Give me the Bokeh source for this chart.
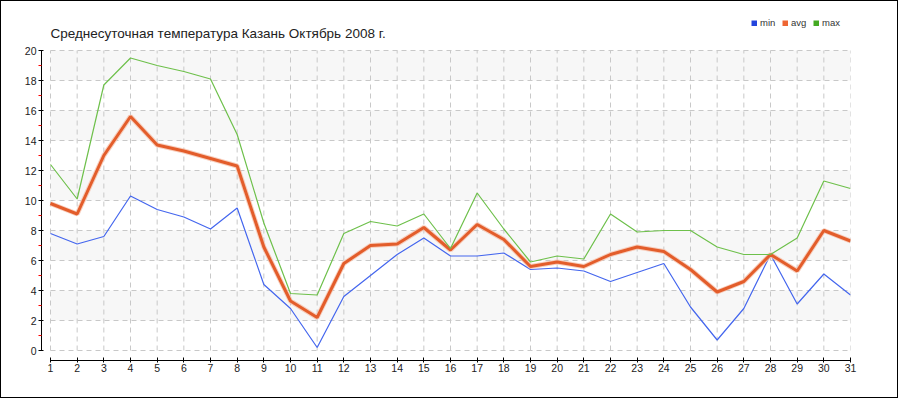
from bokeh.plotting import figure
from bokeh.models import Range1d, FixedTicker, Legend, LegendItem, Label
from bokeh.embed import file_html
from bokeh.resources import INLINE

# ---- data ----
days = list(range(1, 32))
t_min = [7.8, 7.1, 7.6, 10.3, 9.4, 8.9, 8.1, 9.5, 4.4, 2.8, 0.2, 3.6, 5.0, 6.4, 7.5, 6.3,
         6.3, 6.5, 5.4, 5.5, 5.3, 4.6, 5.2, 5.8, 2.9, 0.7, 2.8, 6.4, 3.1, 5.1, 3.7]
t_avg = [9.8, 9.1, 13.0, 15.6, 13.7, 13.3, 12.8, 12.3, 6.9, 3.3, 2.2, 5.8, 7.0, 7.1, 8.2, 6.7,
         8.4, 7.4, 5.6, 5.9, 5.6, 6.4, 6.9, 6.6, 5.4, 3.9, 4.6, 6.4, 5.3, 8.0, 7.3]
t_max = [12.4, 10.1, 17.7, 19.5, 19.0, 18.6, 18.1, 14.4, 8.5, 3.8, 3.7, 7.8, 8.6, 8.3, 9.1, 6.8,
         10.5, 8.1, 5.9, 6.3, 6.1, 9.1, 7.9, 8.0, 8.0, 6.9, 6.4, 6.4, 7.5, 11.3, 10.8]
y_ticks = [0, 2, 4, 6, 8, 10, 12, 14, 16, 18, 20]
y_minor = [1, 3, 5, 7, 9, 11, 13, 15, 17, 19]
band_lo = [2, 6, 10, 14, 18]
band_hi = [4, 8, 12, 16, 20]
series_names = ["min", "avg", "max"]
title_text = "Среднесуточная температура Казань  Октябрь 2008 г."

FONT = "Liberation Sans"
C_MIN, C_AVG, C_MAX = "#4466ee", "#e35d2b", "#6ec04b"
SWATCH = ["#2244dd", "#ee6633", "#44aa22"]

x0, x1 = days[0], days[-1]
y0, y1 = y_ticks[0], y_ticks[-1]
PX_X = 809 / 30.3375   # px per day
PX_Y = 15.0            # px per degree

p = figure(width=898, height=398, output_backend="svg", toolbar_location=None,
           x_range=Range1d(x0 - 9 / PX_X, x1),
           y_range=Range1d(y0 - 10 / PX_Y, y1 + 49 / PX_Y),
           min_border_left=40, min_border_right=49, min_border_top=0, min_border_bottom=39,
           title=None)
p.styles = {"border": "1px solid black"}
p.outline_line_color = None
p.background_fill_color = "white"
p.border_fill_color = "white"
p.xgrid.visible = False
p.ygrid.visible = False

# bands
p.quad(left=x0, right=x1, bottom=band_lo, top=band_hi, fill_color="#f7f7f7",
       line_color=None, level="underlay")

# grid lines (dashed)
grid_kw = dict(line_color="#c8c8c8", line_width=1, line_dash="5 4", level="underlay")
p.segment(x0=days, x1=days, y0=[y0] * len(days), y1=[y1] * len(days), **grid_kw)
p.segment(x0=[x0] * len(y_ticks), x1=[x1] * len(y_ticks), y0=y_ticks, y1=y_ticks, **grid_kw)

# series
series = [t_min, t_avg, t_max]
p.line(days, t_min, line_color=C_MIN, line_width=1.2)
p.line(days, t_avg, line_color="#f6c3ae", line_width=5, line_alpha=0.8)
p.line(days, t_avg, line_color=C_AVG, line_width=3)
p.line(days, t_max, line_color=C_MAX, line_width=1.2)

# title (frame-relative screen position)
p.add_layout(Label(x=9, y=327, x_units="screen", y_units="screen", text=title_text,
                   text_font=FONT, text_font_size="13.5px", text_color="#222222",
                   text_baseline="alphabetic", text_align="left"))

# legend swatches: hidden thick copies of each series -> small squares in the legend
sw = [p.line(days, s, line_color=c, line_width=6, line_cap="butt", visible=False)
      for s, c in zip(series, SWATCH)]
legend = Legend(items=[LegendItem(label=n, renderers=[r]) for n, r in zip(series_names, sw)],
                orientation="horizontal", location=(710, 332),
                glyph_width=6, glyph_height=6, label_standoff=3, spacing=2,
                padding=0, margin=0, border_line_color=None, background_fill_alpha=0,
                label_text_font=FONT, label_text_font_size="9.5px", label_text_color="#333333",
                label_height=10, label_width=20)
p.add_layout(legend, "center")

# axes
ya = p.yaxis[0]
ya.ticker = FixedTicker(ticks=y_ticks, minor_ticks=y_minor)
ya.bounds = (y0, y1)
ya.axis_line_color = "black"
ya.major_tick_in = 2
ya.major_tick_out = 3
ya.minor_tick_in = 0
ya.minor_tick_out = 3
ya.minor_tick_line_color = "red"
ya.major_label_standoff = 2
ya.major_label_text_font = FONT
ya.major_label_text_font_size = "10.5px"
ya.major_label_text_color = "#222222"

xa = p.xaxis[0]
xa.ticker = FixedTicker(ticks=days)
xa.bounds = (x0, x1)
xa.axis_line_color = "black"
xa.major_tick_in = 3
xa.major_tick_out = 2
xa.minor_tick_line_color = None
xa.major_label_standoff = 1
xa.major_label_text_font = FONT
xa.major_label_text_font_size = "10.5px"
xa.major_label_text_color = "#222222"

open("out.html", "w").write(file_html(p, INLINE))
